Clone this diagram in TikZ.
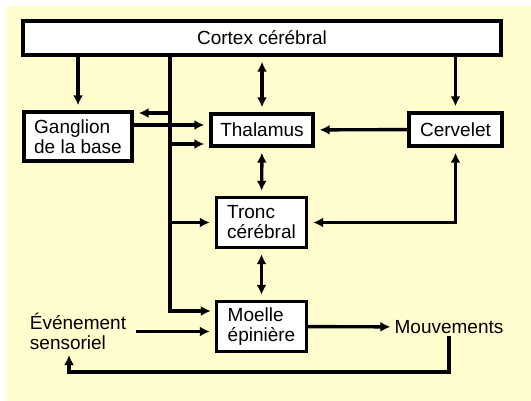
\documentclass[tikz,border=0pt]{standalone}
\usepackage{fontspec}
\setmainfont{Liberation Sans}
\usetikzlibrary{arrows.meta,positioning}
\definecolor{paper}{RGB}{255,252,206}

\begin{document}
\begin{tikzpicture}[
  x=1pt, y=-1pt,
  font=\fontsize{19}{20}\selectfont,
  >={Latex[length=10pt,width=10pt]},
  box/.style={
    draw,
    line width=3.4pt,
    fill=white,
    align=left,
    inner sep=2pt
  },
  flow/.style={->,line width=3.4pt,shorten >=5pt},
  twoway/.style={<->,line width=3.4pt,shorten >=5pt,shorten <=5pt}
]
\useasboundingbox (0,0) rectangle (531,401);
\fill[paper] (6,6) rectangle (531,401);
\node[box,minimum width=478pt,minimum height=34pt] (cortex) at (262,38) {Cortex cérébral};
\node[box,minimum width=108pt,minimum height=49pt] (ganglion) at (78,136.5) {Ganglion\\de la base};
\node[box,minimum width=102pt,minimum height=32pt] (thalamus) at (262,130) {Thalamus};
\node[box,minimum width=93pt,minimum height=33pt] (cervelet) at (455.5,129.5) {Cervelet};
\node[box,minimum width=90pt,minimum height=50pt] (tronc) at (261.5,222.5) {Tronc\\cérébral};
\node[box,minimum width=90pt,minimum height=50pt] (moelle) at (261.5,326.5) {Moelle\\épinière};
\node[align=left,inner sep=2pt] (even) at (78,331.5) {Événement\\sensoriel};
\node[inner sep=2pt] (mouv) at (449,327) {Mouvements};
% trunk and branch points
\coordinate (trunk) at (170,311);
\coordinate (gin) at (170,113);
\coordinate (gout) at (133,125);
\coordinate (tin) at (170,144);
\coordinate (back) at (69,372);
% cortex outputs
\draw[flow] (cortex.south -| ganglion) -- (ganglion);
\draw[flow] (cortex.south -| cervelet) -- (cervelet);
\draw[twoway] (cortex.south -| thalamus) -- (thalamus);
\draw[flow,shorten >=4pt] (cortex.south -| trunk) |- (moelle.west |- trunk);
\draw[flow] (gin) -- (ganglion.east |- gin);
\draw[flow] (gout) -- (thalamus.west |- gout);
\draw[flow] (tin) -- (thalamus.west |- tin);
\draw[flow] (trunk |- tronc) -- (tronc);
\draw[flow] (cervelet) -- (thalamus);
\draw[twoway] (thalamus) -- (tronc);
\draw[twoway] (tronc) -- (moelle);
\draw[twoway] (tronc) -| (cervelet);
% sensory loop
\draw[flow,shorten <=8pt] (even.east) -- (moelle.west |- even.east);
\draw[flow,shorten >=2pt] (moelle) -- (mouv);
\draw[flow,shorten >=3pt] (mouv.south) |- (back) -- (back |- even.south);
\end{tikzpicture}
\end{document}
